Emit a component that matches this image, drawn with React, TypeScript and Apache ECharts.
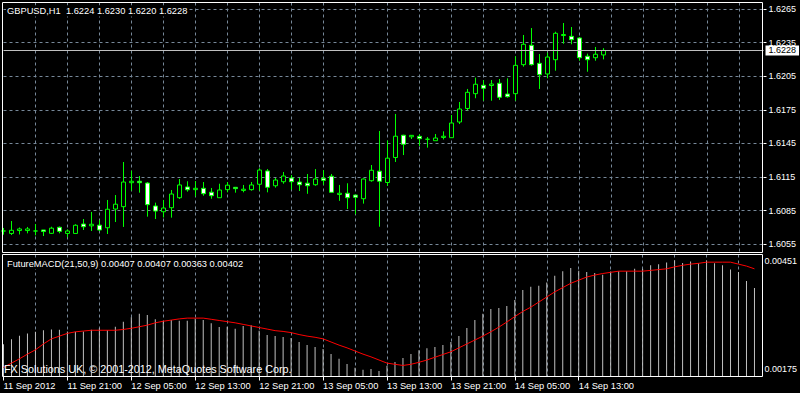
import React, { useEffect, useRef } from 'react';
import * as echarts from 'echarts';

const TICK_LABELS = [
  '11 Sep 2012', '11 Sep 21:00', '12 Sep 05:00', '12 Sep 13:00', '12 Sep 21:00',
  '13 Sep 05:00', '13 Sep 13:00', '13 Sep 21:00', '14 Sep 05:00', '14 Sep 13:00',
];

const OPEN = [
  1.60668, 1.60646, 1.60672, 1.60672, 1.60668, 1.60677, 1.60647, 1.60701, 1.60646, 1.60646,
  1.60730, 1.60714, 1.60720, 1.60697, 1.60864, 1.60885, 1.61099, 1.61112, 1.61096, 1.60891,
  1.60840, 1.60876, 1.60965, 1.61061, 1.61037, 1.61049, 1.61014, 1.60965, 1.61037, 1.61058,
  1.61030, 1.61037, 1.61085, 1.61204, 1.61072, 1.61108, 1.61141, 1.61105, 1.61095, 1.61081,
  1.61139, 1.61157, 1.60994, 1.61005, 1.60989, 1.60956, 1.61117, 1.61202, 1.61101, 1.61324,
  1.61523, 1.61509, 1.61513, 1.61487, 1.61474, 1.61503, 1.61501, 1.61641, 1.61762, 1.61894,
  1.61969, 1.61967, 1.61987, 1.61891, 1.61894, 1.62153, 1.62326, 1.62165, 1.62070, 1.62197,
  1.62413, 1.62406, 1.62391, 1.62228, 1.62215, 1.62240,
];
const HIGH = [
  1.60695, 1.60757, 1.60699, 1.60704, 1.60730, 1.60677, 1.60706, 1.60708, 1.60683, 1.60728,
  1.60775, 1.60838, 1.60766, 1.60945, 1.60989, 1.61284, 1.61206, 1.61159, 1.61105, 1.60921,
  1.60945, 1.61034, 1.61132, 1.61112, 1.61114, 1.61105, 1.61052, 1.61090, 1.61105, 1.61061,
  1.61079, 1.61105, 1.61228, 1.61221, 1.61141, 1.61195, 1.61168, 1.61141, 1.61177, 1.61221,
  1.61212, 1.61177, 1.61079, 1.61094, 1.60992, 1.61137, 1.61257, 1.61561, 1.61476, 1.61713,
  1.61527, 1.61525, 1.61532, 1.61507, 1.61534, 1.61558, 1.61704, 1.61820, 1.61936, 1.62037,
  1.62016, 1.62016, 1.62025, 1.62031, 1.62228, 1.62418, 1.62480, 1.62248, 1.62260, 1.62447,
  1.62525, 1.62489, 1.62400, 1.62251, 1.62311, 1.62300,
];
const LOW = [
  1.60635, 1.60632, 1.60637, 1.60647, 1.60629, 1.60623, 1.60641, 1.60647, 1.60612, 1.60644,
  1.60677, 1.60668, 1.60668, 1.60641, 1.60748, 1.60704, 1.61028, 1.61010, 1.60796, 1.60775,
  1.60788, 1.60787, 1.60954, 1.61019, 1.60976, 1.60983, 1.60956, 1.60965, 1.61013, 1.61010,
  1.61013, 1.61028, 1.61028, 1.61013, 1.61055, 1.61090, 1.61037, 1.61025, 1.61000, 1.61072,
  1.61080, 1.61012, 1.60937, 1.60864, 1.60818, 1.60912, 1.61108, 1.60706, 1.61070, 1.61284,
  1.61346, 1.61489, 1.61427, 1.61412, 1.61474, 1.61485, 1.61501, 1.61623, 1.61744, 1.61853,
  1.61831, 1.61831, 1.61838, 1.61858, 1.61831, 1.62135, 1.62144, 1.61936, 1.62031, 1.62099,
  1.62340, 1.62335, 1.62188, 1.62090, 1.62188, 1.62200,
];
const CLOSE = [
  1.60668, 1.60674, 1.60686, 1.60686, 1.60668, 1.60663, 1.60693, 1.60665, 1.60668, 1.60719,
  1.60706, 1.60728, 1.60677, 1.60862, 1.60907, 1.61105, 1.61112, 1.61099, 1.60903, 1.60846,
  1.60873, 1.60998, 1.61079, 1.61036, 1.61049, 1.61001, 1.60983, 1.61034, 1.61077, 1.61046,
  1.61041, 1.61079, 1.61212, 1.61058, 1.61123, 1.61159, 1.61108, 1.61081, 1.61072, 1.61132,
  1.61120, 1.61013, 1.61005, 1.60965, 1.60969, 1.61132, 1.61210, 1.61112, 1.61318, 1.61514,
  1.61442, 1.61522, 1.61492, 1.61487, 1.61498, 1.61514, 1.61632, 1.61757, 1.61906, 1.61978,
  1.61942, 1.61980, 1.61862, 1.61867, 1.62147, 1.62335, 1.62153, 1.62063, 1.62221, 1.62433,
  1.62422, 1.62376, 1.62215, 1.62197, 1.62246, 1.62280,
];

const MACD_HIST = [
  0.00238, 0.00251, 0.00260, 0.00266, 0.00270, 0.00274, 0.00276, 0.00275, 0.00271, 0.00270,
  0.00271, 0.00275, 0.00279, 0.00274, 0.00283, 0.00296, 0.00307, 0.00316, 0.00313, 0.00302,
  0.00298, 0.00300, 0.00298, 0.00298, 0.00304, 0.00300, 0.00292, 0.00282, 0.00283, 0.00278,
  0.00285, 0.00287, 0.00273, 0.00262, 0.00259, 0.00257, 0.00254, 0.00244, 0.00236, 0.00231,
  0.00226, 0.00213, 0.00201, 0.00188, 0.00178, 0.00173, 0.00175, 0.00170, 0.00183, 0.00193,
  0.00203, 0.00213, 0.00223, 0.00228, 0.00231, 0.00236, 0.00244, 0.00259, 0.00280, 0.00300,
  0.00316, 0.00328, 0.00331, 0.00336, 0.00351, 0.00377, 0.00385, 0.00388, 0.00396, 0.00413,
  0.00425, 0.00433, 0.00426, 0.00423, 0.00420, 0.00416, 0.00424, 0.00425, 0.00425, 0.00431,
  0.00431, 0.00440, 0.00443, 0.00447, 0.00453, 0.00446, 0.00450, 0.00445, 0.00452, 0.00445,
  0.00440, 0.00429, 0.00423, 0.00400, 0.00382,
];
const MACD_SIGNAL = [
  0.00179, 0.00190, 0.00201, 0.00213, 0.00224, 0.00239, 0.00252, 0.00259, 0.00266, 0.00270,
  0.00272, 0.00274, 0.00274, 0.00274, 0.00274, 0.00276, 0.00279, 0.00283, 0.00287, 0.00293,
  0.00297, 0.00300, 0.00303, 0.00305, 0.00305, 0.00305, 0.00302, 0.00299, 0.00296, 0.00293,
  0.00289, 0.00285, 0.00281, 0.00277, 0.00273, 0.00271, 0.00268, 0.00263, 0.00259, 0.00256,
  0.00252, 0.00244, 0.00236, 0.00229, 0.00221, 0.00213, 0.00206, 0.00198, 0.00190, 0.00187,
  0.00184, 0.00187, 0.00192, 0.00198, 0.00205, 0.00212, 0.00219, 0.00229, 0.00239, 0.00249,
  0.00259, 0.00270, 0.00282, 0.00295, 0.00309, 0.00322, 0.00333, 0.00346, 0.00359, 0.00372,
  0.00383, 0.00394, 0.00402, 0.00410, 0.00415, 0.00419, 0.00422, 0.00425, 0.00425, 0.00425,
  0.00425, 0.00427, 0.00429, 0.00431, 0.00436, 0.00440, 0.00443, 0.00445, 0.00448, 0.00448,
  0.00448, 0.00448, 0.00443, 0.00438, 0.00431,
];

const PRICE_TICKS = [1.6055, 1.6085, 1.6115, 1.6145, 1.6175, 1.6205, 1.6235, 1.6265];
const MACD_TICKS = [0.00175, 0.00451];
const LAST_PRICE = 1.6228;
const HEADER = 'GBPUSD,H1  1.6224 1.6230 1.6220 1.6228';
const MACD_HEADER = 'FutureMACD(21,50,9) 0.00407 0.00407 0.00363 0.00402';
const COPYRIGHT = 'FX Solutions UK, \u00A9 2001-2012, MetaQuotes Software Corp.';
const SLOT_COUNT = 96;

const FONT = '"Liberation Sans", Arial, sans-serif';
const GRID_COLOR = '#778899';

export default function App() {
  const ref = useRef<HTMLDivElement>(null);

  useEffect(() => {
    document.body.style.margin = '0';
    document.body.style.background = '#000';
    const chart = echarts.init(ref.current!, undefined, { renderer: 'svg' });

    const slots = Array.from({ length: SLOT_COUNT }, (_, i) => String(i));
    const isGridSlot = (i: number) => i > 0 && i % 4 === 0;
    const isLabelSlot = (i: number) => i % 8 === 0 && i / 8 < TICK_LABELS.length;
    const candles = OPEN.map((o, i) => [o, CLOSE[i], LOW[i], HIGH[i]]);

    const splitLine = {
      show: true,
      interval: (i: number) => isGridSlot(i),
      lineStyle: { color: GRID_COLOR, width: 1, type: [3, 3] as any },
    };

    const option: any = {
      animation: false,
      backgroundColor: '#000',
      grid: [
        { left: 3.5, top: 2.5, width: 760, height: 250, show: false },
        { left: 3.5, top: 254.5, width: 760, height: 122, show: false },
      ],
      xAxis: [
        {
          type: 'category', gridIndex: 0, data: slots, boundaryGap: false,
          axisLine: { show: false }, axisTick: { show: false }, axisLabel: { show: false },
          splitLine,
        },
        {
          type: 'category', gridIndex: 1, data: slots, boundaryGap: false,
          axisLine: { show: false },
          axisTick: {
            show: true, interval: (i: number) => isLabelSlot(i), length: 4,
            lineStyle: { color: '#fff', width: 1 },
          },
          axisLabel: {
            show: true, interval: (i: number) => isLabelSlot(i),
            formatter: (_v: string, i: number) => TICK_LABELS[i / 8] ?? '',
            color: '#fff', align: 'left', margin: 5, fontSize: 9.3, fontFamily: FONT,
          },
          splitLine,
        },
      ],
      yAxis: [
        {
          type: 'value', gridIndex: 0, position: 'right',
          min: 1.604759, max: 1.62708,
          axisLine: { show: false },
          axisTick: { show: true, customValues: PRICE_TICKS, length: 3, lineStyle: { color: '#fff' } },
          axisLabel: {
            customValues: PRICE_TICKS, formatter: (v: number) => v.toFixed(4),
            color: '#fff', margin: 5, fontSize: 9, fontFamily: FONT,
          },
          splitLine: { show: true, lineStyle: { color: GRID_COLOR, width: 1, type: [3, 3] } },
        },
        {
          type: 'value', gridIndex: 1, position: 'right',
          min: 0.001558, max: 0.004676,
          axisLine: { show: false },
          axisTick: { show: false, customValues: MACD_TICKS },
          axisLabel: {
            customValues: MACD_TICKS, formatter: (v: number) => v.toFixed(5),
            color: '#fff', margin: 2, fontSize: 9, fontFamily: FONT,
          },
          splitLine: { show: false },
        },
      ],
      series: [
        {
          type: 'candlestick', xAxisIndex: 0, yAxisIndex: 0, data: candles, barWidth: 4,
          silent: true,
          itemStyle: {
            color: '#000', color0: '#fff', borderColor: '#00ff00', borderColor0: '#00ff00',
            borderColorDoji: '#00ff00', borderWidth: 1,
          },
          markLine: {
            silent: true, symbol: 'none', animation: false, precision: 5,
            data: [{ yAxis: LAST_PRICE }],
            lineStyle: { color: '#c0c0c0', type: 'solid', width: 1 },
            label: {
              position: 'end', distance: 2, formatter: LAST_PRICE.toFixed(4),
              backgroundColor: '#fff', color: '#000', padding: [1, 3, 0, 3],
              fontSize: 9, fontFamily: FONT,
            },
          },
        },
        {
          type: 'bar', xAxisIndex: 1, yAxisIndex: 1, data: MACD_HIST, barWidth: 1,
          silent: true, clip: true, itemStyle: { color: '#c0c0c0' },
        },
        {
          type: 'line', xAxisIndex: 1, yAxisIndex: 1, data: MACD_SIGNAL,
          silent: true, showSymbol: false, symbol: 'none',
          lineStyle: { color: '#ff0000', width: 1 }, z: 5,
        },
      ],
      graphic: [
        { type: 'rect', z: 50, silent: true, shape: { x: 2.5, y: 2.5, width: 760, height: 250 }, style: { fill: 'none', stroke: '#fff', lineWidth: 1 } },
        { type: 'rect', z: 50, silent: true, shape: { x: 2.5, y: 254.5, width: 760, height: 122 }, style: { fill: 'none', stroke: '#fff', lineWidth: 1 } },
        {
          type: 'text', z: 60, x: 6, y: 11, silent: true,
          style: { text: HEADER, fill: '#fff', font: `9.3px ${FONT}`, verticalAlign: 'middle', backgroundColor: '#000', padding: [1, 1] },
        },
        {
          type: 'text', z: 60, x: 6, y: 263.5, silent: true,
          style: { text: MACD_HEADER, fill: '#fff', font: `9.3px ${FONT}`, verticalAlign: 'middle', backgroundColor: '#000', padding: [1, 1] },
        },
        {
          type: 'text', z: 60, x: 4, y: 368.5, silent: true,
          style: { text: COPYRIGHT, fill: '#fff', font: `10.8px ${FONT}`, verticalAlign: 'middle' },
        },
      ],
    };

    chart.setOption(option);
    return () => chart.dispose();
  }, []);

  return <div ref={ref} style={{ width: 800, height: 393, background: '#000' }} />;
}
